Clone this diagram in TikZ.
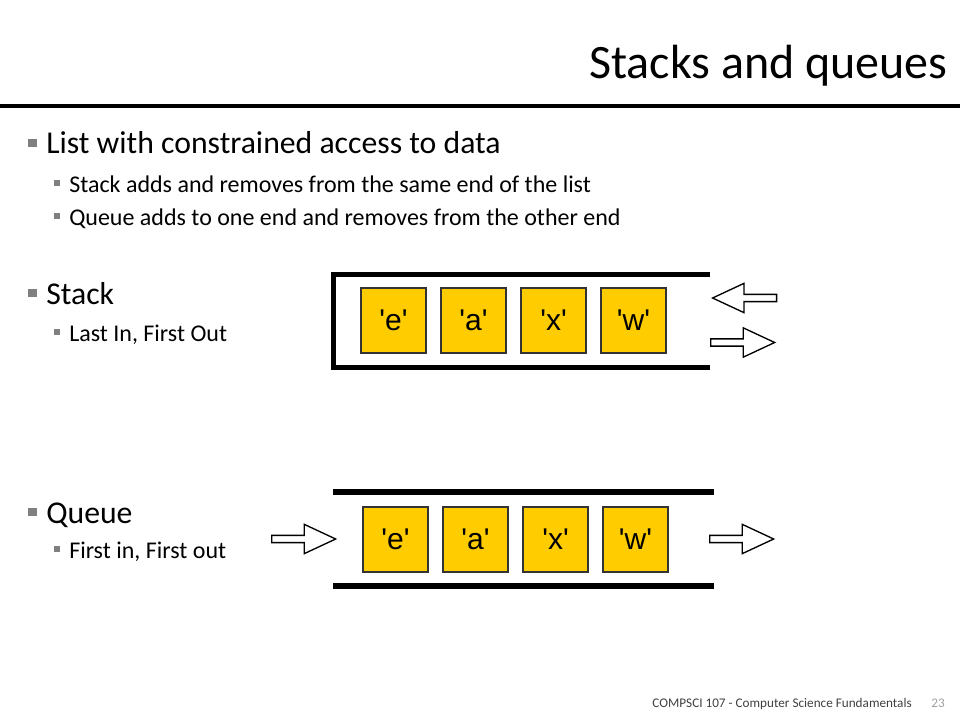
\documentclass[tikz,border=0pt]{standalone}
\usepackage{fontspec}
\setmainfont{Carlito}
\newfontfamily\boxfont{Liberation Sans}
\usetikzlibrary{shapes.arrows}
\usetikzlibrary{positioning}
\definecolor{boxyellow}{RGB}{255,204,0}
\definecolor{bulletgray}{RGB}{128,128,128}
\definecolor{footgray}{RGB}{64,64,64}
\definecolor{numgray}{RGB}{160,160,160}
\newcommand{\chr}[1]{\textquotesingle#1\textquotesingle}
\tikzset{
  title node/.style={anchor=base east,inner sep=0pt,font=\fontsize{36}{42}\selectfont},
  item node/.style={anchor=base west,inner sep=0pt,font=\fontsize{23.8}{28}\selectfont},
  subitem node/.style={anchor=base west,inner sep=0pt,font=\fontsize{18}{22}\selectfont},
  main bullet/.style={rectangle,fill=bulletgray,minimum size=6.5pt,inner sep=0pt},
  sub bullet/.style={rectangle,fill=bulletgray,minimum size=4.5pt,inner sep=0pt},
  char node/.style={rectangle,draw=black!80,line width=0.8pt,fill=boxyellow,minimum size=48.75pt,inner sep=0pt,font=\boxfont\fontsize{22.5}{26}\selectfont},
  wall/.style={line width=4.2pt,line cap=butt},
  block arrow/.style={single arrow,draw,line width=1pt,minimum height=48pt,inner sep=2.2pt,single arrow head extend=8.3pt,single arrow tip angle=50}
}

\begin{document}
\begin{tikzpicture}[x=0.75pt,y=-0.75pt,node distance=60pt]

    \useasboundingbox (0,0) rectangle (960,720);

    % title and rule
    \node[title node] (title) at (948,79) {Stacks and queues};
    \draw[line width=3.4pt] (0,106) -- (960,106);

    % bullets
    \node[main bullet] (b1) at (32.5,143) {};
    \node[item node] (t1) at (46,154) {List with constrained access to data};
    \node[sub bullet] (b2) at (56.5,183) {};
    \node[subitem node] (t2) at (69,193) {Stack adds and removes from the same end of the list};
    \node[sub bullet] (b3) at (56.5,216) {};
    \node[subitem node] (t3) at (69,226) {Queue adds to one end and removes from the other end};

    \node[main bullet] (b4) at (32.5,293) {};
    \node[item node] (t4) at (46,305) {Stack};
    \node[sub bullet] (b5) at (56.5,332) {};
    \node[subitem node] (t5) at (69,341) {Last In, First Out};

    \node[main bullet] (b6) at (32.5,512) {};
    \node[item node] (t6) at (46,523) {Queue};
    \node[sub bullet] (b7) at (56.5,549) {};
    \node[subitem node] (t7) at (69,558) {First in, First out};

    % stack
    \draw[wall,line join=miter] (710,274.5) -- (333.5,274.5) -- (333.5,367.5) -- (710,367.5);
    \node[char node] (se) at (393.5,320.5) {\chr{e}};
    \node[char node,right of=se] (sa) {\chr{a}};
    \node[char node,right of=sa] (sx) {\chr{x}};
    \node[char node,right of=sx] (sw) {\chr{w}};
    \node[block arrow,shape border rotate=180,anchor=tip] (push) at (711,298) {};
    \node[block arrow,anchor=tail] (pop) at (710,342.5) {};

    % queue
    \draw[wall,line width=4.8pt] (333,492) -- (714,492);
    \draw[wall,line width=4.8pt] (333,586) -- (714,586);
    \node[char node] (qe) at (395.5,539.5) {\chr{e}};
    \node[char node,right of=qe] (qa) {\chr{a}};
    \node[char node,right of=qa] (qx) {\chr{x}};
    \node[char node,right of=qx] (qw) {\chr{w}};
    \node[block arrow,anchor=tail] (enq) at (271,539) {};
    \node[block arrow,anchor=tail] (deq) at (709,539) {};

    % footer
    \node[anchor=base east,inner sep=0pt,text=footgray,font=\fontsize{9.9}{12}\selectfont] (foot) at (912,707) {COMPSCI 107 - Computer Science Fundamentals};
    \node[anchor=base east,inner sep=0pt,text=numgray,font=\fontsize{9.9}{12}\selectfont] (page) at (945,707) {23};

\end{tikzpicture}
\end{document}
